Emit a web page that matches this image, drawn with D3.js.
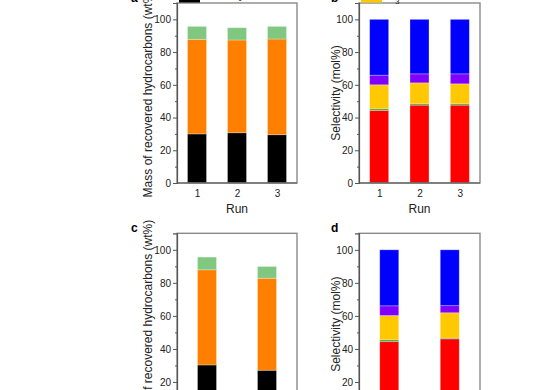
<!DOCTYPE html>
<html>
<head>
<meta charset="utf-8">
<script src="https://cdn.jsdelivr.net/npm/d3@7"></script>
<style>
  html, body { margin: 0; padding: 0; background: #fff; }
  svg { display: block; font-family: "Liberation Sans", Arial, sans-serif; }
</style>
</head>
<body>
<svg id="chart" width="548" height="390"></svg>
<script>
// ---------- data ----------
const runsAB = ["1", "2", "3"];
const runsCD = ["1", "2"];

// Mass of recovered hydrocarbons (wt%) — stacked segments
const massSeries = ["solid", "liquid", "gas"];
const massColors = ["#000000", "#FF8000", "#80C880"];
const massA_solid  = [30.0, 30.7, 29.5];
const massA_liquid = [57.8, 56.7, 58.5];
const massA_gas    = [7.9, 7.5, 7.7];
const massC_solid  = [30.3, 27.1];
const massC_liquid = [57.6, 55.7];
const massC_gas    = [7.7, 7.1];

// Selectivity (mol%) — stacked segments
const selSeries = ["s1", "s2", "s3", "s4", "s5"];
const selColors = ["#FF0000", "#3A9A3A", "#FFC800", "#8000FF", "#0000FF"];
const selB_1 = [44.3, 47.6, 47.6];
const selB_2 = [1.0, 0.8, 0.8];
const selB_3 = [14.7, 12.8, 12.2];
const selB_4 = [5.9, 5.5, 6.1];
const selB_5 = [34.1, 33.3, 33.3];
const selD_1 = [44.4, 46.1];
const selD_2 = [1.1, 0.5];
const selD_3 = [14.7, 15.3];
const selD_4 = [5.9, 4.3];
const selD_5 = [33.9, 33.8];

const yTicks = [0, 20, 40, 60, 80, 100];
const yMinor = [10, 30, 50, 70, 90];

// ---------- drawing ----------
const svg = d3.select("#chart");

function panel(opt) {
  const { x0, x1, yTop, yBot, cats, layers, colors, yTitle, letter, legendColor, legendText } = opt;
  const g = svg.append("g");
  const x = d3.scaleLinear().domain([0.5, cats.length + 0.5]).range([x0, x1]);
  const y = d3.scaleLinear().domain([0, 110]).range([yBot, yTop]);

  const rows = cats.map((c, i) => {
    const r = { cat: c, idx: i + 1 };
    layers.forEach((arr, k) => r["k" + k] = arr[i]);
    return r;
  });
  const keys = layers.map((_, k) => "k" + k);
  const stacked = d3.stack().keys(keys)(rows);
  const bw = 19;

  stacked.forEach((s, k) => {
    g.selectAll(null).data(s).enter().append("rect")
      .attr("x", d => x(d.data.idx) - bw / 2)
      .attr("width", bw)
      .attr("y", d => y(d[1]))
      .attr("height", d => Math.max(0, y(d[0]) - y(d[1])))
      .attr("fill", colors[k])
      .attr("stroke", "rgba(255,255,255,0.35)")
      .attr("stroke-width", 0.8);
  });

  // frame
  g.append("rect")
    .attr("x", x0).attr("y", yTop)
    .attr("width", x1 - x0).attr("height", yBot - yTop)
    .attr("fill", "none").attr("stroke", "#8a8a8a").attr("stroke-width", 1.4);

  // y axis
  const ya = d3.axisLeft(y).tickValues(yTicks).tickSize(4).tickPadding(2);
  const yag = g.append("g").attr("transform", `translate(${x0},0)`).call(ya);
  yag.select(".domain").attr("stroke", "#555").attr("stroke-width", 1.2);
  yag.selectAll(".tick line").attr("stroke", "#555").attr("stroke-width", 1);
  yag.selectAll(".tick text").attr("font-size", 10).attr("fill", "#222")
     .attr("font-family", "Liberation Sans, Arial, sans-serif");
  const ym = d3.axisLeft(y).tickValues(yMinor).tickSize(2).tickFormat("");
  const ymg = g.append("g").attr("transform", `translate(${x0},0)`).call(ym);
  ymg.select(".domain").remove();
  ymg.selectAll(".tick line").attr("stroke", "#555");

  // bottom axis line
  g.append("line").attr("x1", x0).attr("x2", x1).attr("y1", yBot).attr("y2", yBot)
    .attr("stroke", "#555").attr("stroke-width", 1.2);

  // x labels
  const xa = d3.axisBottom(x).tickValues(cats.map((_, i) => i + 1))
    .tickFormat((d, i) => cats[i]).tickSize(0).tickPadding(6.5);
  const xag = g.append("g").attr("transform", `translate(0,${yBot})`).call(xa);
  xag.select(".domain").remove();
  xag.selectAll(".tick text").attr("font-size", 10).attr("fill", "#222")
     .attr("font-family", "Liberation Sans, Arial, sans-serif");

  g.append("text").attr("x", (x0 + x1) / 2).attr("y", yBot + 29.5)
    .attr("text-anchor", "middle").attr("font-size", 12).attr("fill", "#222").text("Run");

  // y title
  g.append("text")
    .attr("transform", `translate(${opt.titleX},${(yTop + yBot) / 2}) rotate(-90)`)
    .attr("text-anchor", "middle").attr("font-size", 12).attr("fill", "#222").text(yTitle);

  // letter
  g.append("text").attr("x", opt.letterX).attr("y", yTop - 1.5)
    .attr("font-size", 12).attr("font-weight", "bold").attr("fill", "#000").text(letter);

  // legend fragment (top row, mostly above view)
  if (legendColor) {
    g.append("rect").attr("x", x0 + 2).attr("y", yTop - 10).attr("width", 21).attr("height", 9.5)
      .attr("fill", legendColor);
    g.append("text").attr("x", x0 + 28).attr("y", yTop - 4.5)
      .attr("font-size", 11).attr("fill", "#222").html(legendText);
  }
}

panel({ x0: 177, x1: 297, yTop: 3, yBot: 183, cats: runsAB,
  layers: [massA_solid, massA_liquid, massA_gas], colors: massColors,
  yTitle: "Mass of recovered hydrocarbons (wt%)", letter: "a", letterX: 131, titleX: 152,
  legendColor: "#000000", legendText: "Solid hydrocarbons" });

panel({ x0: 359, x1: 480, yTop: 3, yBot: 183, cats: runsAB,
  layers: [selB_1, selB_2, selB_3, selB_4, selB_5], colors: selColors,
  yTitle: "Selectivity (mol%)", letter: "b", letterX: 331, titleX: 339.5,
  legendColor: "#FFC800", legendText: "C<tspan baseline-shift='sub' font-size='8'>3</tspan>" });

panel({ x0: 177, x1: 297, yTop: 233.3, yBot: 415, cats: runsCD,
  layers: [massC_solid, massC_liquid, massC_gas], colors: massColors,
  yTitle: "Mass of recovered hydrocarbons (wt%)", letter: "c", letterX: 131, titleX: 152 });

panel({ x0: 359, x1: 480, yTop: 233.3, yBot: 415, cats: runsCD,
  layers: [selD_1, selD_2, selD_3, selD_4, selD_5], colors: selColors,
  yTitle: "Selectivity (mol%)", letter: "d", letterX: 331, titleX: 339.5 });
</script>
</body>
</html>
